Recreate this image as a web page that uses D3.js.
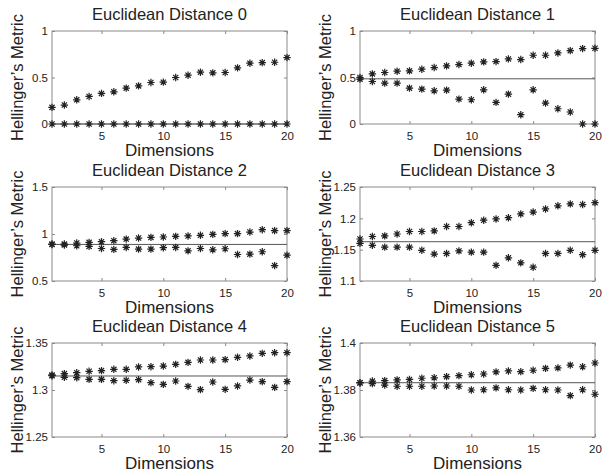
<!DOCTYPE html>
<html><head><meta charset="utf-8">
<script src="https://cdn.jsdelivr.net/npm/d3@7"></script>
<style>body{margin:0;background:#fff}svg{display:block}text{font-family:"Liberation Sans",Arial,sans-serif}</style>
</head><body>
<svg id="c" width="605" height="474"></svg>
<script>
const dims = d3.range(1, 21);
const titles = ["Euclidean Distance 0","Euclidean Distance 1","Euclidean Distance 2","Euclidean Distance 3","Euclidean Distance 4","Euclidean Distance 5"];
const yDomains = [[0,1],[0,1],[0.5,1.5],[1.1,1.25],[1.25,1.35],[1.36,1.4]];
const yTicks = [[0,0.5,1],[0,0.5,1],[0.5,1,1.5],[1.1,1.15,1.2,1.25],[1.25,1.3,1.35],[1.36,1.38,1.4]];
const yTickLabels = [["0","0.5","1"],["0","0.5","1"],["0.5","1","1.5"],["1.1","1.15","1.2","1.25"],["1.25","1.3","1.35"],["1.36","1.38","1.4"]];
const xTicks = [5,10,15,20];
const refLine = [0, 0.486, 0.889, 1.1627, 1.3149, 1.3831];

const upper0 = [0.179,0.204,0.26,0.296,0.329,0.346,0.386,0.41,0.446,0.45,0.5,0.525,0.557,0.55,0.554,0.604,0.654,0.66,0.664,0.714];
const lower0 = [0,0,0,0,0,0,0,0,0,0,0,0,0,0,0,0,0,0,0,0];
const upper1 = [0.5,0.539,0.554,0.568,0.571,0.589,0.607,0.625,0.639,0.654,0.668,0.671,0.7,0.693,0.739,0.739,0.764,0.789,0.811,0.814];
const lower1 = [0.482,0.457,0.439,0.439,0.386,0.375,0.357,0.364,0.268,0.261,0.368,0.232,0.321,0.1,0.368,0.225,0.164,0.129,0,0];
const upper2 = [0.893,0.893,0.904,0.911,0.918,0.929,0.946,0.957,0.964,0.968,0.975,0.979,0.986,0.996,1.004,1.004,1.021,1.046,1.036,1.036];
const lower2 = [0.889,0.882,0.875,0.868,0.846,0.836,0.857,0.839,0.839,0.854,0.857,0.821,0.846,0.832,0.843,0.782,0.786,0.811,0.664,0.775];
const upper3 = [1.167,1.171,1.172,1.175,1.179,1.179,1.18,1.187,1.187,1.193,1.197,1.199,1.201,1.207,1.21,1.215,1.22,1.223,1.222,1.225];
const lower3 = [1.16,1.157,1.154,1.154,1.154,1.149,1.143,1.144,1.148,1.146,1.146,1.125,1.137,1.129,1.122,1.144,1.144,1.149,1.142,1.149];
const upper4 = [1.316,1.3174,1.3184,1.3199,1.3206,1.322,1.322,1.3245,1.3248,1.3255,1.3273,1.3294,1.3319,1.3319,1.3323,1.3348,1.3362,1.339,1.3397,1.3397];
const lower4 = [1.3152,1.3135,1.3131,1.3113,1.3113,1.3099,1.3103,1.311,1.3078,1.306,1.3096,1.3039,1.3004,1.3085,1.3007,1.3043,1.3106,1.3089,1.3028,1.3089];
const upper5 = [1.3831,1.3838,1.384,1.3843,1.3845,1.385,1.3852,1.3857,1.3861,1.3865,1.3868,1.3877,1.3881,1.3878,1.3884,1.3892,1.3894,1.3906,1.3899,1.3915];
const lower5 = [1.383,1.3827,1.3821,1.3816,1.3816,1.3816,1.3817,1.3817,1.3816,1.38,1.3801,1.3809,1.3801,1.38,1.3807,1.3801,1.38,1.3776,1.3801,1.3782];

const uppers = [upper0,upper1,upper2,upper3,upper4,upper5];
const lowers = [lower0,lower1,lower2,lower3,lower4,lower5];

const colX = [[52,287],[360,595]];
const rowY = [[31,124],[187,281],[343,437]];

const svg = d3.select("#c");
const star = "M0,-3.7V3.7M-3.7,0H3.7M-2.6,-2.6L2.6,2.6M-2.6,2.6L2.6,-2.6";

titles.forEach((t, i) => {
  const [x0, x1] = colX[i % 2];
  const [y0, y1] = rowY[Math.floor(i / 2)];
  const x = d3.scaleLinear().domain([1, 20]).range([x0, x1]);
  const y = d3.scaleLinear().domain(yDomains[i]).range([y1, y0]);
  const g = svg.append("g");

  g.append("rect").attr("x", x0).attr("y", y0).attr("width", x1 - x0).attr("height", y1 - y0)
    .attr("fill", "none").attr("stroke", "#8a8a8a").attr("stroke-width", 1);

  const xb = g.append("g").attr("transform", `translate(0,${y1})`)
    .call(d3.axisBottom(x).tickValues(xTicks).tickSize(-3).tickPadding(8).tickFormat(d3.format("d")));
  const xt = g.append("g").attr("transform", `translate(0,${y0})`)
    .call(d3.axisTop(x).tickValues(xTicks).tickSize(-3).tickFormat(""));
  const labs = yTickLabels[i];
  const yl = g.append("g").attr("transform", `translate(${x0},0)`)
    .call(d3.axisLeft(y).tickValues(yTicks[i]).tickSize(-3).tickPadding(4).tickFormat((d, j) => labs[j]));
  const yr = g.append("g").attr("transform", `translate(${x1},0)`)
    .call(d3.axisRight(y).tickValues(yTicks[i]).tickSize(-3).tickFormat(""));
  [xb, xt, yl, yr].forEach(a => {
    a.select(".domain").remove();
    a.selectAll(".tick line").attr("stroke", "#8a8a8a");
    a.selectAll(".tick text").attr("fill", "#222").style("font-size", "11.5px").style("font-family", '"Liberation Sans",Arial,sans-serif');
  });

  g.append("line").attr("x1", x0).attr("x2", x1).attr("y1", y(refLine[i])).attr("y2", y(refLine[i]))
    .attr("stroke", "#555").attr("stroke-width", 1);

  [uppers[i], lowers[i]].forEach(series => {
    g.selectAll(null).data(series).enter().append("path")
      .attr("d", star)
      .attr("transform", (d, j) => `translate(${x(dims[j])},${y(d)})`)
      .attr("fill", "none").attr("stroke", "#222").attr("stroke-width", 1.2);
  });

  g.append("text").attr("x", (x0 + x1) / 2).attr("y", y0 - 11).attr("text-anchor", "middle")
    .style("font-size", "16.5px").attr("fill", "#222").text(t);
  g.append("text").attr("x", (x0 + x1) / 2).attr("y", y1 + 32).attr("text-anchor", "middle")
    .style("font-size", "17px").attr("fill", "#222").text("Dimensions");
  g.append("text").attr("transform", `translate(${x0 - 29},${(y0 + y1) / 2}) rotate(-90)`)
    .attr("text-anchor", "middle").style("font-size", "16.5px").attr("fill", "#222").text("Hellinger’s Metric");
});
</script>
</body></html>
